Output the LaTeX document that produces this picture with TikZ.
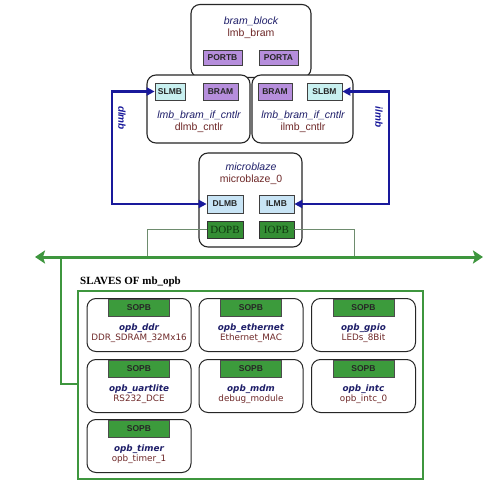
\documentclass[tikz,border=0pt]{standalone}
\usepackage{fontspec}
\setmainfont{Liberation Sans}
\newfontfamily\vfont{DejaVu Sans}
\newfontfamily\tfont{Liberation Serif}
\usetikzlibrary{arrows.meta}
\definecolor{lineblue}{RGB}{25,25,155}
\definecolor{busgreen}{RGB}{62,150,62}
\definecolor{thingreen}{RGB}{110,140,110}
\definecolor{portpurple}{RGB}{182,142,220}
\definecolor{slcyan}{RGB}{200,240,240}
\definecolor{lmbblue}{RGB}{200,228,245}
\definecolor{opbgreen}{RGB}{52,142,52}
\definecolor{opbtext}{RGB}{15,55,15}
\definecolor{sopbgreen}{RGB}{60,155,60}
\definecolor{titleblue}{RGB}{30,30,105}
\definecolor{instred}{RGB}{110,40,40}
\tikzset{
  rbox/.style={draw=black!85, line width=1.1pt, rounded corners=9pt, fill=white, inner sep=0pt},
  pbox/.style={draw=black!75, line width=0.7pt, fill=portpurple, inner sep=0pt, minimum height=15pt, font=\fontsize{8.5}{9}\selectfont\bfseries, text=black!85},
  cbox/.style={draw=black!75, line width=0.7pt, fill=slcyan, inner sep=0pt, minimum height=17pt, font=\fontsize{8.5}{9}\selectfont\bfseries, text=black!85},
  lbox/.style={draw=black!75, line width=0.7pt, fill=lmbblue, inner sep=0pt, minimum height=18pt, font=\fontsize{8.5}{9}\selectfont\bfseries, text=black!85},
  obox/.style={draw=black!80, line width=0.7pt, fill=opbgreen, inner sep=0pt, minimum height=17pt, minimum width=36pt, font=\tfont\fontsize{11}{12}\selectfont, text=opbtext},
  sbox/.style={draw=black!85, line width=1pt, rounded corners=9pt, fill=white, inner sep=0pt, minimum width=104pt},
  sopb/.style={draw=black!70, line width=0.6pt, fill=sopbgreen, inner sep=0pt, minimum width=61pt, minimum height=17pt, font=\fontsize{8.5}{9}\selectfont\bfseries, text=black!85},
  ttl/.style={font=\fontsize{10.5}{12}\selectfont\itshape, text=titleblue, inner sep=0pt},
  inst/.style={font=\fontsize{10.5}{12}\selectfont, text=instred, inner sep=0pt},
  sttl/.style={font=\vfont\fontsize{8.8}{10}\selectfont\bfseries\itshape, text=titleblue, inner sep=0pt},
  sinst/.style={font=\vfont\fontsize{8.8}{10}\selectfont, text=instred, inner sep=0pt},
  blueline/.style={draw=lineblue, line width=2.3pt, arrows={Triangle[length=8pt,width=8pt]-Triangle[length=8pt,width=8pt]}},
  busline/.style={draw=busgreen, line width=3pt, arrows={Stealth[length=10pt,width=13pt,inset=2pt]-Stealth[length=10pt,width=13pt,inset=2pt]}},
  tapline/.style={draw=busgreen, line width=2pt},
  opbline/.style={draw=thingreen, line width=1pt},
  buslbl/.style={font=\fontsize{10}{11}\selectfont\bfseries\itshape, text=lineblue, inner sep=0pt, rotate=-90}
}
\begin{document}
\begin{tikzpicture}[x=1pt,y=-1pt]
\path[use as bounding box, fill=white] (0,0) rectangle (486,487);

% bram block
\node[rbox, minimum width=120pt, minimum height=73pt] (bram) at (251,41) {};
\node[ttl] (bramt) at (251,21) {bram\_block};
\node[inst] (brami) at (251,34) {lmb\_bram};
\node[pbox, minimum width=39pt] (portb) at (222.5,57.5) {PORTB};
\node[pbox, minimum width=39pt] (porta) at (278.5,57.5) {PORTA};

% controllers
\node[rbox, minimum width=103pt, minimum height=68pt] (ctrll) at (198.5,109) {};
\node[rbox, minimum width=101pt, minimum height=68pt] (ctrlr) at (302.5,109) {};
\node[cbox, minimum width=30pt] (slmb) at (170,91.5) {SLMB};
\node[pbox, minimum width=35pt, minimum height=17pt] (braml) at (220.5,91.5) {BRAM};
\node[pbox, minimum width=34pt, minimum height=17pt] (bramr) at (275,91.5) {BRAM};
\node[cbox, minimum width=35pt] (slbm) at (324.5,91.5) {SLBM};
\node[ttl] (ctrllt) at (199,115) {lmb\_bram\_if\_cntlr};
\node[inst] (ctrlli) at (199,128) {dlmb\_cntlr};
\node[ttl] (ctrlrt) at (303,115) {lmb\_bram\_if\_cntlr};
\node[inst] (ctrlri) at (303,128) {ilmb\_cntlr};

% microblaze
\node[rbox, minimum width=103pt, minimum height=94pt] (mb) at (250.5,200) {};
\node[ttl] (mbt) at (251,167) {microblaze};
\node[inst] (mbi) at (251,180) {microblaze\_0};
\node[lbox, minimum width=36pt] (dlmb) at (225,204) {DLMB};
\node[lbox, minimum width=35pt] (ilmb) at (276.5,204) {ILMB};
\node[obox] (dopb) at (225,229.5) {DOPB};
\node[obox, minimum width=35pt] (iopb) at (276.5,229.5) {IOPB};

% LMB buses
\coordinate (dl) at (112,150);
\coordinate (il) at (389,150);
\draw[blueline] (dlmb.west) -| (dl) |- (slmb.west);
\draw[blueline] (ilmb.east) -| (il) |- (slbm.east);
\node[buslbl] (dlmblbl) at (122,118) {dlmb};
\node[buslbl] (ilmblbl) at (379,117) {ilmb};

% OPB bus
\coordinate (busL) at (35,257);
\coordinate (busR) at (483,257);
\coordinate (dbus) at (147,257);
\coordinate (ibus) at (354,257);
\draw[opbline] (dopb.west) -| (dbus);
\draw[opbline] (iopb.east) -| (ibus);
\draw[busline] (busL) -- (busR);

% slaves
\node[anchor=west, font=\tfont\fontsize{11}{12}\selectfont\bfseries, inner sep=0pt] (slvlbl) at (80,282) {SLAVES OF mb\_opb};
\node[draw=busgreen, line width=2pt, minimum width=345pt, minimum height=188pt, inner sep=0pt] (slaves) at (250.5,385) {};
\coordinate (tap) at (61,257);
\coordinate (tapend) at (78,384);
\draw[tapline] (tap) |- (tapend);

\foreach \n/\cx/\ty/\t/\s in {
  1/139/298/opb\_ddr/DDR\_SDRAM\_32Mx16,
  2/251/298/opb\_ethernet/Ethernet\_MAC,
  3/363.5/298/opb\_gpio/LEDs\_8Bit,
  4/139/359/opb\_uartlite/RS232\_DCE,
  5/251/359/opb\_mdm/debug\_module,
  6/363.5/359/opb\_intc/opb\_intc\_0,
  7/139/419/opb\_timer/opb\_timer\_1}{
  \node[sbox, minimum height=53pt, anchor=north] (s\n) at (\cx,\ty) {};
  \node[sopb, anchor=north] (p\n) at (\cx,\ty+1) {SOPB};
  \node[sttl] (t\n) at (\cx,\ty+30) {\t};
  \node[sinst] (i\n) at (\cx,\ty+40.5) {\s};
}
\end{tikzpicture}
\end{document}
